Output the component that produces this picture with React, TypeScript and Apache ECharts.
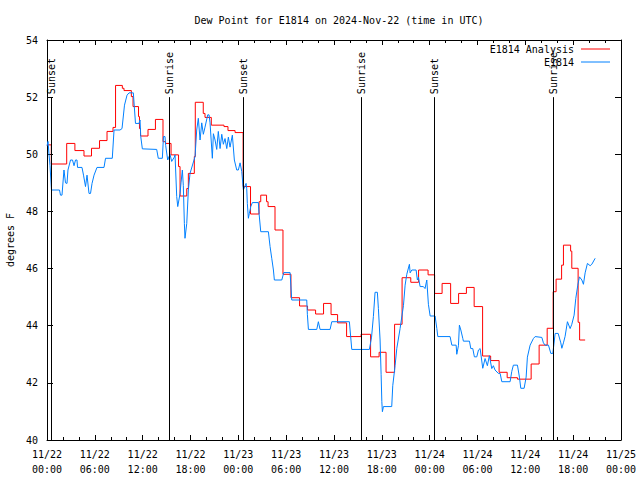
import React, { useEffect, useRef } from 'react';
import * as echarts from 'echarts';

const titleText = 'Dew Point for E1814 on 2024-Nov-22 (time in UTC)';
const yAxisName = 'degrees F';
const xTickLabels = [
  '11/22\n00:00', '11/22\n06:00', '11/22\n12:00', '11/22\n18:00',
  '11/23\n00:00', '11/23\n06:00', '11/23\n12:00', '11/23\n18:00',
  '11/24\n00:00', '11/24\n06:00', '11/24\n12:00', '11/24\n18:00',
  '11/25\n00:00',
];
const seriesNames = ['E1814 Analysis', 'E1814'];

// hours after 11/22 00:00 UTC
const sunHours = [0.55, 15.35, 24.62, 39.42, 48.6, 63.5];
const sunLabels = ['Sunset', 'Sunrise', 'Sunset', 'Sunrise', 'Sunset', 'Sunrise'];

const analysisHours = [
  0, 0.54, 2.47, 3.5, 4.64, 5.58, 6.59, 7.53, 8.28, 8.6, 9.45, 9.66, 10.58, 10.79, 11.48, 11.6,
  11.73, 12.67, 13.6, 14.55, 14.87, 15.56, 16.5, 16.69, 17.53, 17.73, 18.48, 18.6, 19.6, 19.82,
  20.61, 22.2, 22.7, 23.59, 24.6, 25.53, 26.6, 26.81, 27.54, 27.73, 28.6, 29.6, 30.6, 31.68,
  32.68, 33.69, 34.69, 35.63, 36.45, 37.58, 39.4, 40.59, 41.66, 42.53, 43.6, 44.54, 45.63,
  46.61, 47.8, 48.62, 49.56, 50.63, 51.63, 52.61, 53.58, 54.64, 55.65, 56.71, 57.72, 59.01,
  60.73, 61.73, 62.74, 63.49, 63.86, 64.55, 64.78, 65.68, 65.83, 66.62, 66.81, 67.5,
];
const analysisValues = [
  50.33, 49.66, 50.38, 50.13, 49.94, 50.21, 50.48, 50.8, 50.94, 52.41, 52.31, 52.23, 52.02, 51.67,
  51.32, 50.9, 50.64, 50.87, 51.22, 50.44, 50.38, 49.98, 49.57, 48.54, 48.8, 49.33, 49.92, 51.82,
  51.43, 51.29, 51.02, 50.97, 50.83, 50.76, 48.87, 47.91, 48.34, 48.57, 48.34, 48.17, 47.35, 45.8,
  44.98, 44.69, 44.55, 44.41, 44.78, 44.39, 44.1, 43.62, 43.7, 42.91, 43.07, 42.37, 44.05, 45.68,
  45.52, 45.95, 45.78, 45.13, 45.48, 44.78, 45.13, 45.34, 44.67, 42.94, 42.78, 42.37, 42.18, 42.13,
  42.66, 43.32, 43.91, 45.19, 45.63, 46.12, 46.82, 46.61, 46.01, 44.12, 43.5, 43.5,
];

const obsHours = [
  0, 0.13, 0.25, 0.38, 0.56, 1.57, 1.69, 1.88, 2.13, 2.32, 2.51, 2.63, 2.95, 3.2, 3.39, 3.58, 3.76,
  3.83, 4.39, 4.58, 4.83, 5.02, 5.27, 5.46, 5.65, 5.9, 6.27, 7.15, 7.34, 8.19, 8.41, 9.16, 9.41,
  9.72, 10.04, 10.29, 10.83, 11.1, 11.54, 11.67, 11.76, 11.96, 13.76, 13.96, 14.47, 14.61, 14.8,
  14.89, 15.14, 15.43, 15.64, 15.97, 16.06, 16.27, 16.4, 16.69, 16.81, 16.98, 17.1, 17.23, 17.31,
  17.53, 17.73, 17.94, 18.57, 18.78, 18.98, 19.2, 19.41, 19.61, 19.82, 20.16, 20.33, 20.45, 20.74,
  20.87, 21.08, 21.29, 21.49, 21.71, 21.92, 22.12, 22.33, 22.55, 22.75, 22.96, 23.25, 23.5, 23.8,
  24.0, 24.22, 24.43, 24.63, 24.97, 25.05, 25.13, 25.26, 25.38, 25.56, 25.76, 26.51, 26.6, 26.81,
  27.77, 27.98, 28.19, 28.4, 28.52, 29.45, 29.7, 30.49, 30.7, 32.58, 32.66, 32.79, 33.84, 34.04,
  34.25, 35.51, 35.72, 37.93, 38.23, 40.44, 40.71, 40.94, 41.15, 41.44, 41.57, 41.78, 41.91, 42.0,
  42.07, 42.2, 43.24, 43.37, 43.66, 43.88, 44.29, 44.71, 44.92, 45.13, 45.46, 45.55, 45.76, 46.3,
  46.46, 46.59, 46.8, 47.21, 47.42, 47.64, 47.84, 48.06, 48.68, 48.9, 49.02, 50.56, 50.78, 51.32,
  51.4, 51.61, 51.73, 51.91, 52.16, 52.23, 52.99, 53.16, 53.41, 53.61, 53.91, 54.12, 54.33, 54.66,
  54.95, 55.24, 55.49, 55.79, 55.99, 56.2, 56.62, 56.84, 57.05, 58.09, 58.3, 58.5, 59.01, 59.26,
  59.43, 59.85, 60.1, 60.26, 60.6, 61.01, 61.23, 62.07, 62.27, 62.48, 62.9, 63.2, 63.45, 63.74,
  64.12, 64.45, 64.58, 64.78, 64.99, 65.28, 65.62, 65.83, 66.12, 66.33, 66.58, 66.79, 67.09,
  67.29, 67.5, 67.79, 68.13, 68.34, 68.76,
];
const obsValues = [
  50.3, 50.45, 50.0, 49.6, 48.75, 48.75, 48.57, 48.57, 49.45, 49.0, 48.98, 49.45, 49.8, 49.8, 49.6,
  49.8, 49.8, 49.54, 49.54, 49.27, 48.87, 49.27, 48.63, 48.63, 48.98, 49.27, 49.54, 49.54, 49.86,
  49.86, 50.85, 50.85, 50.9, 51.72, 52.07, 52.15, 52.15, 51.08, 51.08, 51.2, 50.62, 50.19, 50.17,
  49.86, 49.86, 50.62, 50.62, 50.3, 49.8, 50.0, 49.75, 49.9, 49.98, 48.52, 48.17, 48.63, 49.0,
  49.45, 48.9, 47.58, 47.06, 47.58, 48.75, 49.33, 49.92, 50.85, 51.26, 50.5, 51.1, 50.7, 50.95,
  51.38, 51.38, 51.1, 49.86, 50.72, 50.5, 50.17, 50.8, 50.2, 50.7, 50.35, 50.55, 50.2, 50.6, 50.25,
  50.67, 49.8, 49.45, 49.45, 49.7, 49.4, 48.75, 48.98, 48.81, 48.28, 47.76, 47.93, 48.17, 48.31,
  48.31, 47.93, 47.29, 47.29, 46.77, 46.36, 45.95, 45.6, 45.6, 45.86, 45.86, 44.9, 44.9, 44.4,
  43.87, 43.87, 44.14, 43.87, 43.87, 44.14, 44.14, 43.17, 43.17, 43.6, 44.32, 45.17, 45.17, 44.6,
  43.5, 42.3, 41.34, 40.99, 41.17, 41.17, 41.9, 42.6, 43.21, 43.9, 44.7, 45.42, 45.8, 46.15, 45.85,
  45.95, 45.95, 45.6, 45.7, 45.37, 45.37, 45.3, 45.6, 44.75, 44.34, 44.34, 43.9, 43.62, 43.62,
  43.32, 43.32, 43.0, 43.3, 44.02, 43.85, 43.55, 43.46, 43.46, 43.2, 43.2, 42.91, 42.91, 43.15,
  43.2, 42.51, 42.85, 42.6, 42.95, 42.5, 42.6, 42.45, 42.33, 42.33, 42.04, 42.04, 42.4, 42.62,
  42.62, 42.2, 41.81, 41.81, 42.2, 42.9, 43.32, 43.55, 43.62, 43.59, 43.4, 43.32, 43.32, 43.03,
  43.03, 43.73, 43.73, 43.4, 43.21, 43.4, 43.63, 44.14, 43.9, 44.05, 44.37, 44.96, 45.42, 45.71,
  45.6, 45.45, 45.85, 46.18, 46.1, 46.15, 46.36,
];

const sunLineBottom = 40;
const sunLineTop = 52;

const FONT = '"DejaVu Sans Mono", "Liberation Mono", monospace';
const RED = '#ff0000';
const BLUE = '#0080ff';

export default function App() {
  const ref = useRef<HTMLDivElement>(null);

  useEffect(() => {
    const chart = echarts.init(ref.current!, null, { renderer: 'svg' });
    const xCommon = {
      type: 'value',
      min: 0,
      max: 72,
      interval: 6,
      axisLine: { show: true, onZero: false, lineStyle: { color: '#000', width: 1 } },
      axisTick: { show: true, inside: true, length: 5, lineStyle: { color: '#000' } },
      minorTick: { show: true, splitNumber: 3, length: 3, lineStyle: { color: '#000' } },
      splitLine: { show: false },
    };
    const yCommon = {
      type: 'value',
      min: 40,
      max: 54,
      interval: 2,
      axisLine: { show: true, onZero: false, lineStyle: { color: '#000', width: 1 } },
      axisTick: { show: true, inside: true, length: 6, lineStyle: { color: '#000' } },
      splitLine: { show: false },
    };
    chart.setOption({
      animation: false,
      backgroundColor: '#fff',
      textStyle: { fontFamily: FONT },
      title: {
        text: titleText,
        left: 334,
        textAlign: 'center',
        top: 10,
        textStyle: { fontFamily: FONT, fontSize: 10, fontWeight: 'normal', color: '#000' },
      },
      grid: { left: 47, right: 19, top: 40, bottom: 40, containLabel: false, outerBoundsMode: 'none' },
      xAxis: [
        {
          ...xCommon,
          position: 'bottom',
          axisLabel: {
            show: true,
            margin: 7,
            color: '#000',
            fontFamily: FONT,
            fontSize: 10,
            lineHeight: 15,
            formatter: (v: number) => xTickLabels[Math.round(v / 6)] ?? '',
          },
        },
        { ...xCommon, position: 'top', axisLabel: { show: false } },
      ],
      yAxis: [
        {
          ...yCommon,
          position: 'left',
          name: yAxisName,
          nameLocation: 'middle',
          nameGap: 32,
          nameRotate: 90,
          nameTextStyle: { color: '#000', fontFamily: FONT, fontSize: 10 },
          axisLabel: { show: true, margin: 9, color: '#000', fontFamily: FONT, fontSize: 10 },
        },
        { ...yCommon, position: 'right', axisLabel: { show: false } },
      ],
      series: [
        {
          name: seriesNames[0],
          type: 'line',
          step: 'end',
          showSymbol: false,
          symbol: 'none',
          lineStyle: { color: RED, width: 1 },
          data: analysisHours.map((h, i) => [h, analysisValues[i]]),
          markLine: {
            silent: true,
            symbol: ['none', 'none'],
            label: { show: false },
            lineStyle: { color: '#000', width: 1, type: 'solid' },
            emphasis: { disabled: true },
            data: sunHours.map((h) => [
              { coord: [h, sunLineBottom] },
              { coord: [h, sunLineTop] },
            ]),
          },
        },
        {
          name: seriesNames[1],
          type: 'line',
          showSymbol: false,
          symbol: 'none',
          lineStyle: { color: BLUE, width: 1 },
          data: obsHours.map((h, i) => [h, obsValues[i]]),
        },
      ],
    });

    const sunText = sunHours.map((h, i) => {
      const p = chart.convertToPixel({ gridIndex: 0 }, [h, sunLineTop]) as number[];
      return {
        type: 'text',
        x: p[0],
        y: p[1] - 3,
        rotation: Math.PI / 2,
        style: {
          text: sunLabels[i],
          fill: '#000',
          fontFamily: FONT,
          fontSize: 10,
          align: 'left',
          verticalAlign: 'middle',
          textAlign: 'left',
          textVerticalAlign: 'middle',
        },
        z: 10,
      };
    });
    const legendRows = [
      { name: seriesNames[0], color: RED, y: 49 },
      { name: seriesNames[1], color: BLUE, y: 62 },
    ];
    const legend = legendRows.flatMap((r) => [
      {
        type: 'text',
        x: 574,
        y: r.y,
        style: {
          text: r.name,
          fill: '#000',
          fontFamily: FONT,
          fontSize: 10,
          align: 'right',
          verticalAlign: 'middle',
          textAlign: 'right',
          textVerticalAlign: 'middle',
        },
        z: 10,
      },
      {
        type: 'line',
        shape: { x1: 581, y1: r.y, x2: 610, y2: r.y },
        style: { stroke: r.color, lineWidth: 1 },
        z: 10,
      },
    ]);
    chart.setOption({ graphic: [...legend, ...sunText] });

    return () => chart.dispose();
  }, []);

  return (
    <div
      ref={ref}
      style={{ position: 'fixed', left: 0, top: 0, width: 640, height: 480, background: '#fff' }}
    />
  );
}
